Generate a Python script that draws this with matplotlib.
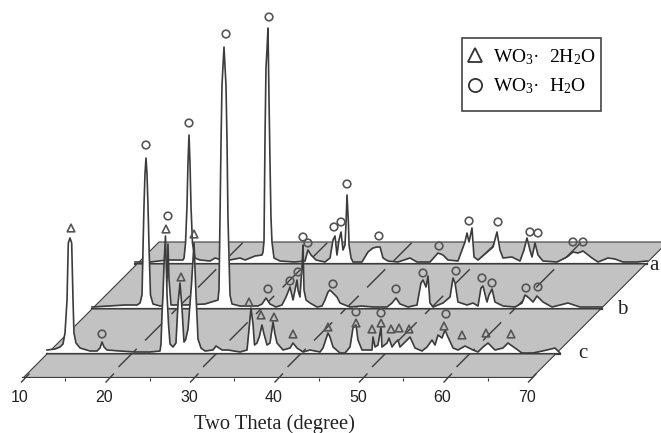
import matplotlib
matplotlib.use("Agg")
import numpy as np
import matplotlib.pyplot as plt
from matplotlib.lines import Line2D
from matplotlib.patches import Polygon, Rectangle
from matplotlib.transforms import ScaledTranslation

# pattern a (back), 2 theta and intensity above its own baseline
theta_a = [10.00, 11.78, 13.79, 15.68, 15.80, 15.98, 16.15, 16.27, 16.39, 16.51, 16.63, 16.80, 17.10, 17.69,
           18.88, 19.47, 20.65, 22.43, 23.02, 24.20, 25.03, 25.15, 25.27, 25.38, 25.50, 25.62, 25.74, 25.86,
           25.98, 26.09, 26.21, 26.45, 27.16, 28.93, 30.12, 30.47, 30.83, 31.42, 32.48, 33.08, 33.43, 33.67,
           33.90, 34.14, 34.38, 34.61, 34.85, 34.97, 35.09, 35.26, 35.33, 35.57, 35.80, 36.86, 37.57, 38.16,
           38.64, 39.00, 39.35, 39.94, 41.12, 42.54, 43.37, 44.91, 45.86, 46.45, 47.04, 48.22, 49.05, 49.29,
           49.53, 49.88, 50.12, 50.59, 52.37, 52.84, 53.19, 53.55, 54.61, 55.56, 56.03, 56.39, 56.74, 56.98,
           57.34, 57.69, 58.28, 59.94, 61.12, 61.83, 62.43, 63.02, 64.08, 64.79, 65.97, 66.80, 67.75, 69.41, 70.59]
int_a = [2, 2, 4, 4, 6, 21, 57, 101, 129, 101, 57, 21, 6, 4,
         3, 6, 3, 6, 4, 8, 9, 12, 24, 122, 196, 214, 236, 164,
         100, 47, 22, 6, 3, 2, 3, 14, 9, 4, 2, 6, 24, 28,
         9, 24, 32, 14, 19, 40, 69, 40, 19, 6, 2, 2, 12, 16,
         17, 17, 6, 3, 2, 6, 2, 2, 11, 9, 4, 3, 22, 31,
         22, 36, 7, 4, 17, 32, 14, 6, 7, 3, 14, 26, 14, 7,
         21, 9, 3, 2, 7, 12, 11, 13, 6, 2, 6, 5, 2, 2, 3]

# pattern b (middle)
theta_b = [10.00, 13.91, 15.33, 15.68, 15.92, 16.04, 16.15, 16.27, 16.39, 16.51, 16.63, 16.75, 16.92, 17.22,
           18.05, 18.64, 18.88, 18.99, 19.11, 19.35, 21.01, 23.37, 24.91, 25.03, 25.15, 25.27, 25.38, 25.62,
           25.86, 25.98, 26.09, 26.33, 26.57, 27.51, 29.64, 30.12, 30.59, 31.06, 31.77, 32.48, 32.96, 33.43,
           33.79, 34.26, 34.38, 34.61, 34.85, 34.97, 35.09, 35.33, 35.80, 36.63, 37.22, 37.57, 37.93, 38.16,
           38.52, 38.99, 39.35, 40.53, 41.95, 43.25, 44.91, 45.50, 45.98, 46.45, 47.40, 48.46, 48.93, 49.17,
           49.53, 49.76, 50.00, 50.35, 51.54, 52.37, 52.72, 52.96, 53.31, 54.38, 55.09, 55.68, 56.03, 56.27,
           56.74, 56.98, 57.34, 57.69, 58.64, 60.06, 60.89, 61.24, 61.71, 62.19, 62.66, 63.37, 64.44, 66.33,
           67.75, 69.76, 70.35]
int_b = [2, 4, 4, 6, 14, 62, 102, 135, 151, 135, 102, 62, 14, 5,
         3, 4, 30, 65, 30, 4, 4, 5, 9, 20, 92, 167, 223, 262,
         223, 167, 92, 14, 5, 3, 3, 5, 11, 5, 2, 4, 12, 22,
         9, 29, 19, 12, 42, 64, 19, 9, 6, 2, 3, 9, 17, 19,
         16, 12, 6, 2, 3, 2, 2, 6, 11, 5, 2, 4, 26, 29,
         22, 33, 6, 2, 6, 12, 31, 26, 7, 4, 6, 3, 21, 23,
         7, 14, 20, 7, 3, 2, 6, 14, 11, 7, 13, 7, 2, 6,
         2, 2, 2]

# pattern c (front)
theta_c = [10.00, 10.95, 11.54, 11.89, 12.13, 12.37, 12.52, 12.72, 12.92, 13.08, 13.19, 13.43, 13.91, 15.09,
           15.92, 16.27, 16.51, 16.75, 17.10, 18.64, 20.41, 22.19, 23.37, 23.49, 23.61, 23.73, 23.85, 24.02,
           24.20, 24.38, 24.56, 24.91, 25.26, 25.50, 25.74, 25.98, 26.21, 26.39, 26.69, 27.10, 27.40, 27.63,
           27.87, 28.22, 28.70, 29.64, 30.00, 30.71, 31.42, 32.84, 33.67, 33.90, 34.14, 34.38, 34.56, 34.85,
           35.15, 35.44, 35.68, 36.04, 36.39, 36.75, 36.98, 37.22, 37.93, 38.76, 39.11, 39.59, 40.30, 41.12,
           42.31, 42.66, 43.25, 43.49, 43.85, 44.67, 45.27, 45.86, 46.21, 46.57, 46.80, 47.28, 48.46, 48.58,
           48.82, 49.17, 49.53, 49.64, 50.24, 50.47, 50.83, 51.18, 51.54, 51.77, 52.37, 52.96, 53.55, 54.38,
           54.97, 55.56, 55.92, 56.27, 56.74, 57.10, 57.45, 58.05, 58.64, 59.47, 60.41, 61.00, 61.60, 62.19,
           63.02, 63.96, 64.55, 65.38, 66.21, 67.51, 69.17, 70.12, 70.71]
int_c = [4, 5, 7, 10, 21, 54, 111, 116, 111, 54, 21, 11, 6, 3,
         3, 6, 12, 7, 4, 3, 2, 2, 3, 10, 40, 60, 90, 118,
         60, 30, 10, 7, 11, 50, 71, 45, 12, 14, 25, 70, 111, 60,
         15, 6, 3, 4, 8, 4, 4, 2, 4, 24, 46, 30, 9, 11,
         18, 29, 20, 9, 11, 32, 20, 11, 4, 6, 11, 6, 2, 4,
         2, 6, 21, 17, 7, 1, 1, 7, 26, 29, 14, 4, 4, 17,
         7, 9, 27, 7, 11, 16, 7, 11, 14, 7, 12, 17, 6, 3,
         7, 14, 9, 19, 16, 24, 17, 6, 4, 8, 4, 2, 7, 11,
         4, 6, 11, 6, 1, 1, 4, 6, 1]

# peak assignment symbols
circle_theta_a = [16.39, 25.86, 29.88, 30.47, 33.55, 34.38, 35.09, 38.87, 45.98, 49.53, 52.96, 56.74, 57.69, 61.83, 63.02]
circle_int_a = [141, 247, 27, 21, 37, 42, 80, 28, 18, 43, 42, 32, 31, 22, 22]
circle_theta_b = [16.39, 18.99, 25.86, 30.83, 33.43, 34.38, 38.52, 45.98, 49.17, 53.08, 56.15, 57.34, 61.36, 62.78]
circle_int_b = [164, 93, 275, 20, 28, 37, 25, 20, 36, 38, 31, 26, 21, 22]
circle_theta_c = [16.51, 46.57, 49.53, 57.22]
circle_int_c = [20, 42, 41, 40]
tri_theta_c = [12.84, 24.08, 25.86, 27.40, 33.90, 35.33, 36.86, 39.11, 43.25, 46.57, 48.46, 49.53, 50.71, 51.66, 52.84,
               56.98, 59.11, 61.95, 64.91]
tri_int_c = [126, 125, 77, 120, 52, 39, 37, 20, 27, 31, 25, 31, 25, 26, 25, 28, 19, 21, 20]

major_ticks = [10, 20, 30, 40, 50, 60, 70]
minor_ticks = [15, 25, 35, 45, 55, 65]
grid_ticks = [20, 30, 40, 50, 60]

PX = 8.45  # pixels per degree
GRAY = "#c2c2c2"
DARK = "#3c3c3c"

plt.rcParams["font.family"] = "Liberation Serif"
plt.rcParams["mathtext.fontset"] = "custom"
plt.rcParams["mathtext.rm"] = "Liberation Serif"
plt.rcParams["mathtext.default"] = "rm"


def plane(ax, low, high, z):
    # one slanted grey panel, with its dashed grid lines clipped to it
    corners = [(10 + low / PX, low), (70.2 + low / PX, low), (70.2 + high / PX, high), (10 + high / PX, high)]
    poly = Polygon(corners, closed=True, facecolor=GRAY, edgecolor=DARK, lw=0.8, zorder=z)
    ax.add_patch(poly)
    for t in grid_ticks:
        xs = np.array([t + 11 / PX, t + 136 / PX])
        line, = ax.plot(xs, [11, 136], color=DARK, lw=1, dashes=(18.5, 8.5), zorder=z + 0.1)
        line.set_clip_path(poly)


def pattern(ax, theta, intensity, dx, base, z):
    xs = np.array(theta) + dx / PX
    ys = np.array(intensity) + base
    ax.fill_between(xs, base, ys, color="white", lw=0, zorder=z)
    ax.plot(xs, ys, color=DARK, lw=1.2, solid_joinstyle="round", zorder=z + 0.1)
    ax.plot([xs[0], xs[-1]], [base, base], color=DARK, lw=1.6, zorder=z + 0.2)


def main():
    fig = plt.figure(figsize=(6.61, 4.33), dpi=100)
    ax = fig.add_axes([0, 55 / 433, 1, 378 / 433])
    left = 10 - 23 / PX
    ax.set_xlim(left, left + 661 / PX)
    ax.set_ylim(0, 378)
    ax.set_frame_on(False)
    ax.yaxis.set_visible(False)

    plane(ax, 114, 136, 1)
    pattern(ax, theta_a, int_a, 112, 114, 2)
    plane(ax, 69, 114, 3)
    pattern(ax, theta_b, int_b, 69, 69, 4)
    plane(ax, 24, 69, 5)
    pattern(ax, theta_c, int_c, 24, 24, 6)
    plane(ax, 0, 24, 7)
    ax.plot([10, 70.2], [0, 0], color=DARK, lw=1.6, zorder=8)

    # slanted major tick marks on the floor
    for t in major_ticks:
        ax.plot([t - 1.5 / PX, t + 6 / PX], [-4, 4], color=DARK, lw=1, clip_on=False, zorder=8)

    ax.set_xticks(major_ticks)
    ax.set_xticks(minor_ticks, minor=True)
    ax.tick_params(axis="x", which="major", length=0, pad=9, labelsize=11.5, labelfontfamily="Liberation Sans",
                   labelcolor="#222222")
    ax.tick_params(axis="x", which="minor", length=2, width=0.8, color=DARK)
    shift = ScaledTranslation(-3 / 100, 0, fig.dpi_scale_trans)
    for lab in ax.get_xticklabels():
        lab.set_transform(lab.get_transform() + shift)

    ax.set_xlabel("Two Theta (degree)", fontsize=14.8, color="#222222")
    ax.xaxis.set_label_coords(274 / 661, -0.096)

    circ = dict(marker="o", s=30, facecolors="none", edgecolors="#555555", linewidths=1.2, zorder=20, clip_on=False)
    tri = dict(marker="^", s=30, facecolors="none", edgecolors="#555555", linewidths=1.2, zorder=20, clip_on=False)
    ax.scatter(np.array(circle_theta_a) + 112 / PX, np.array(circle_int_a) + 114, **circ)
    ax.scatter(np.array(circle_theta_b) + 69 / PX, np.array(circle_int_b) + 69, **circ)
    ax.scatter(np.array(circle_theta_c) + 24 / PX, np.array(circle_int_c) + 24, **circ)
    ax.scatter(np.array(tri_theta_c) + 24 / PX, np.array(tri_int_c) + 24, **tri)

    for name, dx, h in [("a", 9, 113), ("b", 22, 69), ("c", 26, 25)]:
        ax.text(70.2 + (h + dx) / PX, h, name, fontsize=15, ha="center", va="center", color="#222222")

    # legend box is drawn on its own so it can be sized like the original
    ax.add_patch(Rectangle((462 / 661, 1 - 111 / 433), 139 / 661, 73 / 433, transform=fig.transFigure,
                           facecolor="white", edgecolor="#444444", lw=1.2, zorder=25))
    handles = [
        Line2D([], [], ls="", marker="^", ms=9.5, mfc="none", mec="#333333", mew=1.3),
        Line2D([], [], ls="", marker="o", ms=9.5, mfc="none", mec="#333333", mew=1.3),
    ]
    leg = ax.legend(handles, ["WO$_3$·  2H$_2$O", "WO$_3$·  H$_2$O"], loc="upper left",
                    bbox_to_anchor=(465 / 661, 1 - 47 / 433), bbox_transform=fig.transFigure, borderaxespad=0,
                    fontsize=14, frameon=False, handlelength=1, handletextpad=0.44, labelspacing=0.5, borderpad=0)
    leg.set_zorder(30)

    fig.savefig("out.png", dpi=100)


if __name__ == "__main__":
    main()
